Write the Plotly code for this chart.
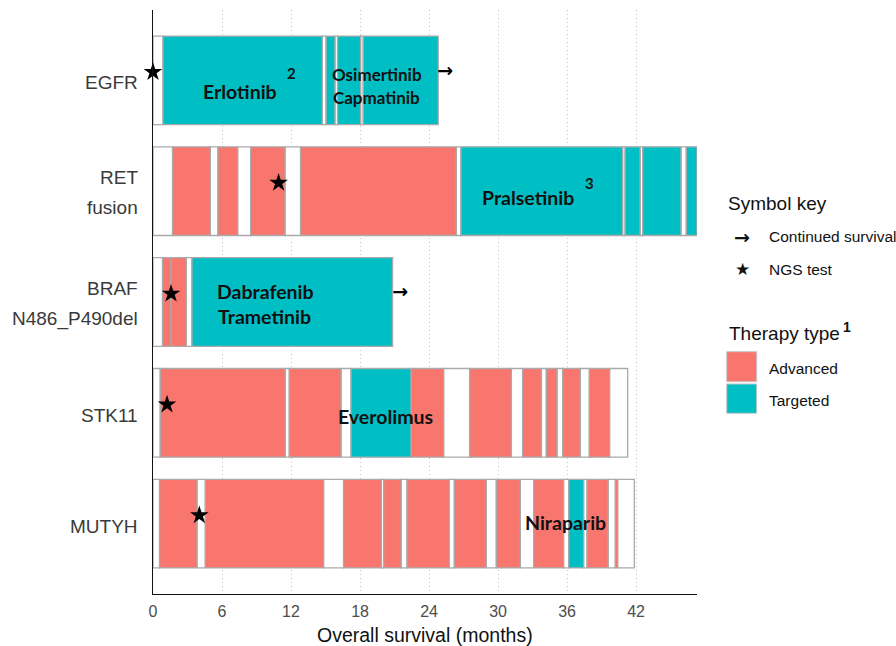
import plotly.graph_objects as go

# ---------------- data ----------------
genes = ["EGFR", "RET\nfusion", "BRAF\nN486_P490del", "STK11", "MUTYH"]

# segment boundaries (months) and therapy type per segment
egfr_bounds = [0, 0.87, 14.72, 15.05, 15.82, 16.05, 18.05, 18.28, 24.8]
egfr_types = ["none", "Targeted", "none", "Targeted", "none", "Targeted", "none", "Targeted"]

ret_bounds = [0, 1.70, 4.98, 5.65, 7.36, 8.49, 11.48, 12.83, 26.37, 26.78,
              40.83, 41.05, 42.35, 42.58, 45.91, 46.37, 47.3]
ret_types = ["none", "Advanced", "none", "Advanced", "none", "Advanced", "none", "Advanced",
             "none", "Targeted", "none", "Targeted", "none", "Targeted", "none", "Targeted"]

braf_bounds = [0, 0.83, 1.57, 2.90, 3.39, 20.83]
braf_types = ["none", "Advanced", "Advanced", "none", "Targeted"]

stk11_bounds = [0, 0.63, 11.50, 11.85, 16.35, 17.22, 22.43, 25.27, 27.53, 31.16, 32.14,
                33.77, 34.20, 35.13, 35.62, 37.16, 37.94, 39.70, 41.27]
stk11_types = ["none", "Advanced", "none", "Advanced", "none", "Targeted", "Advanced", "none",
               "Advanced", "none", "Advanced", "none", "Advanced", "none", "Advanced", "none",
               "Advanced", "none"]

mutyh_bounds = [0, 0.57, 3.83, 4.55, 14.83, 16.57, 19.85, 20.05, 21.57, 22.09, 25.77, 26.20,
                28.98, 29.85, 31.94, 33.10, 35.70, 36.14, 37.44, 37.74, 39.57, 40.20, 40.40, 41.85]
mutyh_types = ["none", "Advanced", "none", "Advanced", "none", "Advanced", "none", "Advanced",
               "none", "Advanced", "none", "Advanced", "none", "Advanced", "none", "Advanced",
               "none", "Targeted", "none", "Advanced", "none", "Advanced", "none"]

ngs_months = [0.0, 10.92, 1.57, 1.22, 4.03]
continued_genes = ["EGFR", "BRAF\nN486_P490del"]
continued_months = [25.4, 21.5]

x_ticks = [0, 6, 12, 18, 24, 30, 36, 42]

# ---------------- styling ----------------
COL = {"none": "#FFFFFF", "Advanced": "#F8766D", "Targeted": "#00BFC4"}
EDGE = "#AAAAAA"
L, R, T, B = 153, 199, 10, 52
W, H = 896, 646
PW, PH = W - L - R, H - T - B
XMAX = 47.3
YR = [0.365, 5.635]

ypos = {g: len(genes) - i for i, g in enumerate(genes)}
series = [(genes[0], egfr_bounds, egfr_types), (genes[1], ret_bounds, ret_types),
          (genes[2], braf_bounds, braf_types), (genes[3], stk11_bounds, stk11_types),
          (genes[4], mutyh_bounds, mutyh_types)]

fig = go.Figure()
for ttype in ["none", "Advanced", "Targeted"]:
    ys, xs, bs = [], [], []
    for g, bounds, types in series:
        for k, t in enumerate(types):
            if t == ttype:
                ys.append(ypos[g])
                bs.append(bounds[k])
                xs.append(bounds[k + 1] - bounds[k])
    fig.add_trace(go.Bar(orientation="h", y=ys, x=xs, base=bs, width=0.8,
                         marker=dict(color=COL[ttype], line=dict(color=EDGE, width=1.3)),
                         showlegend=False, hoverinfo="skip"))

STAR_DY = 0.075
fig.add_trace(go.Scatter(x=ngs_months, y=[ypos[g] + STAR_DY for g in genes], mode="markers",
                         marker=dict(symbol="star", size=14, color="black"),
                         showlegend=False, hoverinfo="skip", cliponaxis=False))
fig.add_trace(go.Scatter(x=continued_months, y=[ypos[g] + STAR_DY for g in continued_genes],
                         mode="text", text=["<b>→</b>"] * len(continued_months),
                         textfont=dict(family="DejaVu Sans", size=19, color="black"),
                         showlegend=False, hoverinfo="skip", cliponaxis=False))

ann = []
DRUG = "Lato"
def drug(text, x, g, dy, size):
    ann.append(dict(text=f"<b>{text}</b>", x=x, y=ypos[g], xref="x", yref="y", yshift=dy,
                    showarrow=False, xanchor="center", yanchor="middle",
                    font=dict(family=DRUG, size=size, color="#111111")))

drug("Erlotinib", 7.58, genes[0], -10.8, 19.5)
drug("2", 12.0, genes[0], 7.5, 15)
drug("Osimertinib", 19.45, genes[0], 5.8, 17)
drug("Capmatinib", 19.4, genes[0], -16.8, 17)
drug("Pralsetinib", 32.63, genes[1], -6.5, 19.5)
drug("3", 37.94, genes[1], 8.5, 15)
drug("Dabrafenib", 9.77, genes[2], 10.8, 19.5)
drug("Trametinib", 9.68, genes[2], -14.2, 19.5)
drug("Everolimus", 20.2, genes[3], -3.4, 19.5)
drug("Niraparib", 35.85, genes[4], 0.8, 19.5)

AX = "Liberation Sans, Arial, sans-serif"
def px(xp):
    return (xp - L) / PW
def py(yp):
    return (T + PH - yp) / PH

# gene labels (axis labels)
for g in genes:
    lines = g.split("\n")
    offs = [-2.5] if len(lines) == 1 else [13.2, -16.8]
    for line, o in zip(lines, offs):
        ann.append(dict(text=line, x=px(140), y=ypos[g], xref="paper", yref="y", yshift=o,
                        showarrow=False, xanchor="right", yanchor="middle",
                        font=dict(family=AX, size=19, color="#3A3A3A")))

# x title
ann.append(dict(text="Overall survival (months)", x=px(424.5), y=py(634.5), xref="paper",
                yref="paper", showarrow=False, xanchor="center", yanchor="middle",
                font=dict(family=AX, size=19.5, color="#111111")))

# legend
def ltext(text, xp, yp, size, **kw):
    ann.append(dict(text=text, x=px(xp), y=py(yp), xref="paper", yref="paper", showarrow=False,
                    xanchor=kw.get("xanchor", "left"), yanchor="middle",
                    font=dict(family=kw.get("family", AX), size=size, color="#111111")))

ltext("Symbol key", 725.5, 203, 19)
ltext("<b>→</b>", 741.5, 236.7, 19, xanchor="center", family="DejaVu Sans")
ltext("Continued survival", 767, 236.7, 15.5)
ltext("★", 742, 269.3, 17, xanchor="center", family="DejaVu Sans")
ltext("NGS test", 767, 269.3, 15.5)
ltext("Therapy type", 727, 333, 19)
ltext("<b>1</b>", 846.7, 326.7, 14, xanchor="center")
ltext("Advanced", 767, 368.3, 15.5)
ltext("Targeted", 767, 400, 15.5)

shapes = []
for (y0, y1, c) in [(351.7, 381.7, COL["Advanced"]), (384, 413.3, COL["Targeted"])]:
    shapes.append(dict(type="rect", xref="paper", yref="paper", x0=px(726.7), x1=px(756.7),
                       y0=py(y1), y1=py(y0), fillcolor=c, line=dict(color="#C8C8C8", width=1)))

fig.update_layout(
    width=W, height=H, margin=dict(l=L, r=R, t=T, b=B),
    paper_bgcolor="white", plot_bgcolor="white", barmode="overlay",
    annotations=ann, shapes=shapes, showlegend=False,
    xaxis=dict(range=[0, XMAX], tickvals=x_ticks, ticktext=[str(v) for v in x_ticks],
               showgrid=True, gridcolor="#C4C4C4", griddash="1px,3px", gridwidth=1.2,
               zeroline=False, showline=True, linecolor="#111111", linewidth=1.3,
               ticks="outside", ticklen=3, tickcolor="rgba(0,0,0,0)",
               tickfont=dict(family=AX, size=16, color="#4D4D4D")),
    yaxis=dict(range=YR, showgrid=False, zeroline=False, showline=True, linecolor="#111111",
               linewidth=1.3, showticklabels=False, ticks=""),
)

fig.write_html("out.html", config={"displayModeBar": False},
               post_script="document.body.style.margin='0';document.body.style.padding='0';"
                           "document.body.style.overflow='hidden';")
